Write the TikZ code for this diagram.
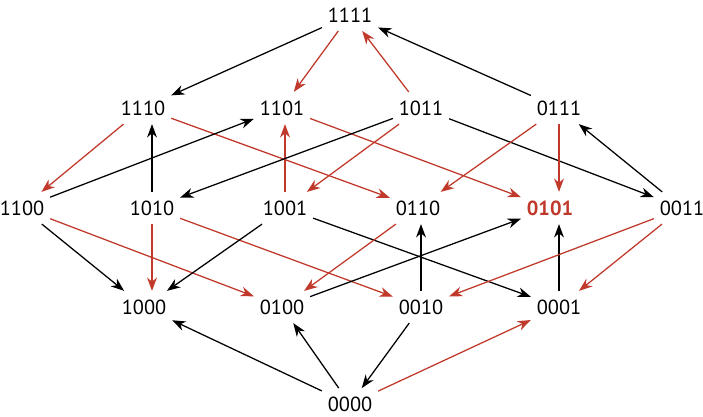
\documentclass[tikz,border=0pt]{standalone}
\usepackage{fontspec}
\setmainfont{PT Sans}
\usetikzlibrary{arrows.meta}
\definecolor{flipred}{RGB}{192,57,43}
\begin{document}
\begin{tikzpicture}[
  state/.style={inner xsep=4pt, inner ysep=6pt, font=\fontsize{14.5}{16}\selectfont},
  blk/.style={draw=black, line width=0.9pt, -{Stealth[length=9.5pt,width=7pt,inset=3pt]}},
  red/.style={draw=flipred, line width=0.9pt, -{Stealth[length=9.5pt,width=7pt,inset=3pt]}}
]
\useasboundingbox (0,0) rectangle (17.575,10.425);
% top
\node[state] (b1111) at (8.75,10.05) {1111};
% weight three
\node[state] (b1110) at (3.575,7.725) {1110};
\node[state] (b1101) at (7.05,7.725) {1101};
\node[state] (b1011) at (10.525,7.725) {1011};
\node[state] (b0111) at (13.975,7.725) {0111};
% weight two
\node[state] (b1100) at (0.55,5.225) {1100};
\node[state] (b1010) at (3.8,5.225) {1010};
\node[state] (b1001) at (7.125,5.225) {1001};
\node[state] (b0110) at (10.45,5.225) {0110};
\node[state, text=flipred, font=\fontsize{14.5}{16}\selectfont\bfseries] (b0101) at (13.75,5.225) {0101};
\node[state] (b0011) at (17.05,5.225) {0011};
% weight one
\node[state] (b1000) at (3.6,2.75) {1000};
\node[state] (b0100) at (7.05,2.75) {0100};
\node[state] (b0010) at (10.525,2.75) {0010};
\node[state] (b0001) at (13.975,2.75) {0001};
% bottom
\node[state] (b0000) at (8.75,0.32) {0000};

\draw[blk] (b1111) -- (b1110);
\draw[red] (b1111) -- (b1101);
\draw[red] (b1011) -- (b1111);
\draw[blk] (b0111) -- (b1111);

\draw[red] (b1110) -- (b1100);
\draw[blk] (b1010) -- (b1010 |- b1110.south);
\draw[red] (b1110) -- (b0110);
\draw[blk] (b1100) -- (b1101);
\draw[red] (b1001) -- (b1001 |- b1101.south);
\draw[red] (b1101) -- (b0101);
\draw[blk] (b1011) -- (b1010);
\draw[red] (b1011) -- (b1001);
\draw[blk] (b1011) -- (b0011);
\draw[red] (b0111) -- (b0110);
\draw[red] (b0111) -- (b0111 |- b0101.north);
\draw[blk] (b0011) -- (b0111);

\draw[blk] (b1100) -- (b1000);
\draw[red] (b1100) -- (b0100);
\draw[red] (b1010) -- (b1010 |- b1000.north);
\draw[red] (b1010) -- (b0010);
\draw[blk] (b1001) -- (b1000);
\draw[blk] (b1001) -- (b0001);
\draw[red] (b0110) -- (b0100);
\draw[blk] (b0010) -- (b0010 |- b0110.south);
\draw[blk] (b0100) -- (b0101);
\draw[blk] (b0001) -- (b0001 |- b0101.south);
\draw[red] (b0011) -- (b0010);
\draw[red] (b0011) -- (b0001);

\draw[blk] (b0000) -- (b1000);
\draw[blk] (b0000) -- (b0100);
\draw[blk] (b0010) -- (b0000);
\draw[red] (b0000) -- (b0001);
\end{tikzpicture}
\end{document}
